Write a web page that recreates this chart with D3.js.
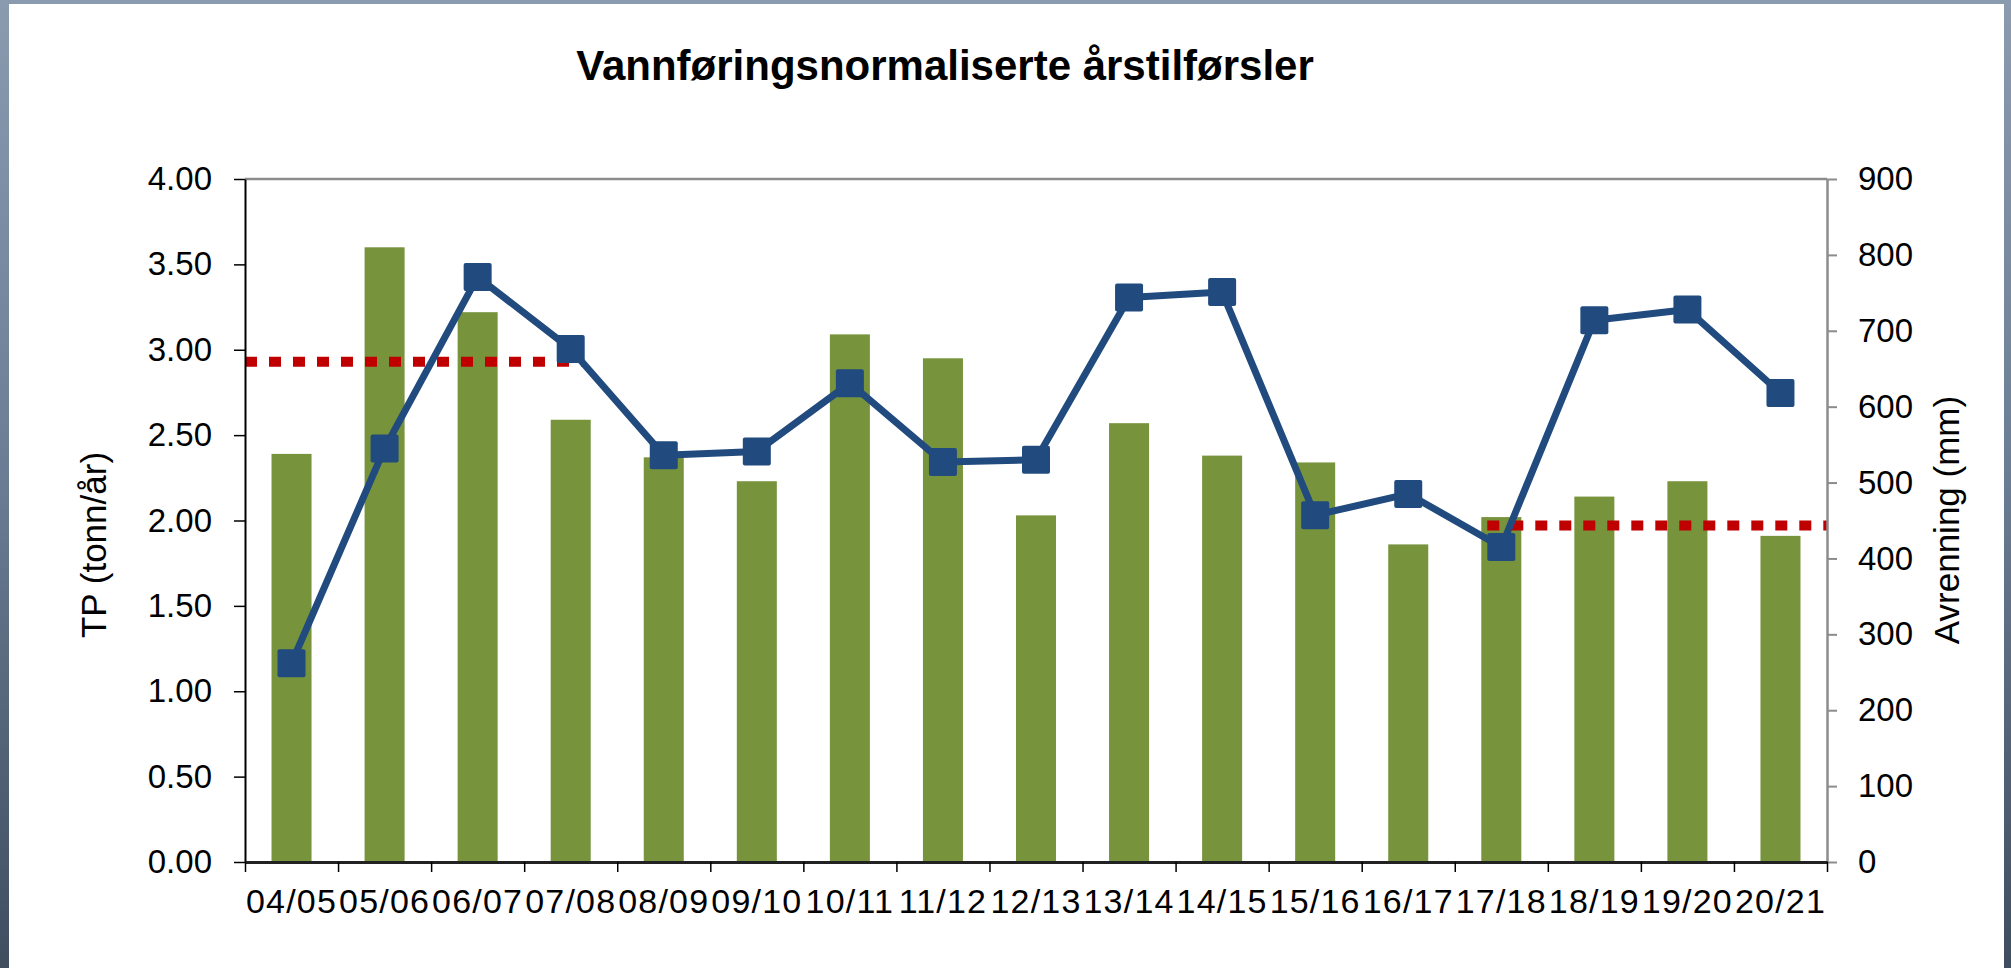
<!DOCTYPE html>
<html>
<head>
<meta charset="utf-8">
<script src="https://cdn.jsdelivr.net/npm/d3@7/dist/d3.min.js"></script>
<style>
  body { margin: 0; overflow: hidden; background: #6f8197; }
  text { font-family: Arial, "Liberation Sans", sans-serif; fill: #000; }
</style>
</head>
<body>
<div id="chart"></div>
<script>
// seasons on the x axis
const seasons = ["04/05", "05/06", "06/07", "07/08", "08/09", "09/10", "10/11", "11/12", "12/13",
    "13/14", "14/15", "15/16", "16/17", "17/18", "18/19", "19/20", "20/21"];
// TP (tonn/år) - bars, left axis
const tpValues = [2.39, 3.60, 3.22, 2.59, 2.37, 2.23, 3.09, 2.95, 2.03, 2.57, 2.38, 2.34, 1.86, 2.02, 2.14, 2.23, 1.91];
// Avrenning (mm) - line, right axis
const avrenning = [262, 545, 771, 676, 536, 541, 631, 527, 530, 744, 751, 457, 485, 415, 714, 728, 618];
// red dotted mean lines (left axis)
const meanValues = [2.93, 1.97];
const meanFrom = ["04/05", "17/18"];
const meanTo = ["07/08", "20/21"];
// axis ticks
const leftTicks = [0, 0.5, 1, 1.5, 2, 2.5, 3, 3.5, 4];
const rightTicks = [0, 100, 200, 300, 400, 500, 600, 700, 800, 900];

const title = "Vannføringsnormaliserte årstilførsler";
const leftTitle = "TP (tonn/år)";
const rightTitle = "Avrenning (mm)";

const margin = {top: 179, right: 184, bottom: 106, left: 245},
    width = 2011 - margin.left - margin.right,
    height = 968 - margin.top - margin.bottom;

const svg_root = d3.select("#chart")
    .append("svg")
    .attr("width", 2011)
    .attr("height", 968);

// photo-like backdrop around the white panel
const defs = svg_root.append("defs");
const grad = defs.append("linearGradient").attr("id", "bg").attr("x1", 0).attr("y1", 0).attr("x2", 0).attr("y2", 1);
grad.append("stop").attr("offset", "0%").attr("stop-color", "#8a9bb0");
grad.append("stop").attr("offset", "50%").attr("stop-color", "#6a7c93");
grad.append("stop").attr("offset", "100%").attr("stop-color", "#3f4d5f");
svg_root.append("rect").attr("width", 2011).attr("height", 968).attr("fill", "url(#bg)");
svg_root.append("rect")
    .attr("x", 9).attr("y", 4)
    .attr("width", 1995).attr("height", 964)
    .attr("fill", "#fff");

svg_root.append("text")
    .attr("x", 945).attr("y", 80)
    .attr("text-anchor", "middle")
    .style("font-size", "42px")
    .style("font-weight", "bold")
    .text(title);

const svg = svg_root.append("g")
    .attr("transform", "translate(" + margin.left + "," + margin.top + ")");

const x = d3.scaleBand()
    .domain(seasons)
    .range([0, width])
    .paddingInner(0.57)
    .paddingOuter(0.285);
const xLabels = d3.scaleBand().domain(seasons).range([0, width]);
const xEdges = d3.scaleLinear().domain([0, seasons.length]).range([0, width]);
const yLeft = d3.scaleLinear().domain([0, 4]).range([height, 0]);
const yRight = d3.scaleLinear().domain([0, 900]).range([height, 0]);

// plot border top
svg.append("line")
    .attr("x1", 0).attr("x2", width)
    .attr("y1", 0).attr("y2", 0)
    .attr("stroke", "#8c8c8c").attr("stroke-width", 2.5);

// bars
svg.selectAll(".bar")
    .data(seasons)
    .enter().append("rect")
    .attr("class", "bar")
    .attr("x", d => x(d))
    .attr("width", x.bandwidth())
    .attr("y", (d, i) => yLeft(tpValues[i]))
    .attr("height", (d, i) => height - yLeft(tpValues[i]))
    .attr("fill", "#77933c");

// mean lines
meanValues.forEach(function (v, i) {
    const i0 = seasons.indexOf(meanFrom[i]), i1 = seasons.indexOf(meanTo[i]);
    const x0 = i0 === 0 ? 0 : xLabels(meanFrom[i]) + xLabels.bandwidth() / 2 - 14;
    const x1 = i1 === seasons.length - 1 ? width : xLabels(meanTo[i]) + xLabels.bandwidth() / 2 + 13;
    svg.append("line")
        .attr("x1", x0).attr("x2", x1)
        .attr("y1", yLeft(v)).attr("y2", yLeft(v))
        .attr("stroke", "#c00000")
        .attr("stroke-width", 10)
        .attr("stroke-dasharray", "12,12");
});

// avrenning line
const cx = d => xLabels(d) + xLabels.bandwidth() / 2;
const line = d3.line()
    .x(d => cx(d))
    .y((d, i) => yRight(avrenning[i]));
svg.append("path")
    .datum(seasons)
    .attr("d", line)
    .attr("fill", "none")
    .attr("stroke", "#214b7e")
    .attr("stroke-width", 7)
    .attr("stroke-linejoin", "round");
svg.selectAll(".marker")
    .data(seasons)
    .enter().append("rect")
    .attr("class", "marker")
    .attr("x", d => cx(d) - 14)
    .attr("y", (d, i) => yRight(avrenning[i]) - 14)
    .attr("width", 28).attr("height", 28)
    .attr("rx", 2)
    .attr("fill", "#214b7e");

// left axis
const gLeft = svg.append("g")
    .call(d3.axisLeft(yLeft).tickValues(leftTicks).tickFormat(d3.format(".2f"))
        .tickSize(11).tickSizeOuter(0).tickPadding(22));
gLeft.select(".domain").attr("stroke", "#000").attr("stroke-width", 2);
gLeft.selectAll(".tick line").attr("stroke", "#000").attr("stroke-width", 1.5);
gLeft.selectAll("text").style("font-size", "33px");

// right axis
const gRight = svg.append("g")
    .attr("transform", "translate(" + width + ",0)")
    .call(d3.axisRight(yRight).tickValues(rightTicks)
        .tickSize(10).tickSizeOuter(0).tickPadding(21));
gRight.select(".domain").attr("stroke", "#8c8c8c").attr("stroke-width", 2.5);
gRight.selectAll(".tick line").attr("stroke", "#8c8c8c").attr("stroke-width", 2);
gRight.selectAll("text").style("font-size", "33px");

// x axis: tick marks between categories, labels centred
const gEdges = svg.append("g")
    .attr("transform", "translate(0," + height + ")")
    .call(d3.axisBottom(xEdges).tickValues(d3.range(seasons.length + 1)).tickFormat("")
        .tickSize(10).tickSizeOuter(0));
gEdges.select(".domain").attr("stroke", "#222").attr("stroke-width", 3);
gEdges.selectAll(".tick line").attr("stroke", "#000").attr("stroke-width", 1.5);

const gLabels = svg.append("g")
    .attr("transform", "translate(0," + height + ")")
    .call(d3.axisBottom(xLabels).tickSize(0).tickPadding(27));
gLabels.select(".domain").remove();
gLabels.selectAll("text")
    .style("font-size", "34px")
    .style("letter-spacing", "1.2px");

// axis titles
svg_root.append("text")
    .attr("transform", "translate(106,545) rotate(-90)")
    .attr("text-anchor", "middle")
    .style("font-size", "35px")
    .text(leftTitle);
svg_root.append("text")
    .attr("transform", "translate(1959,520) rotate(-90)")
    .attr("text-anchor", "middle")
    .style("font-size", "35px")
    .text(rightTitle);
</script>
</body>
</html>
